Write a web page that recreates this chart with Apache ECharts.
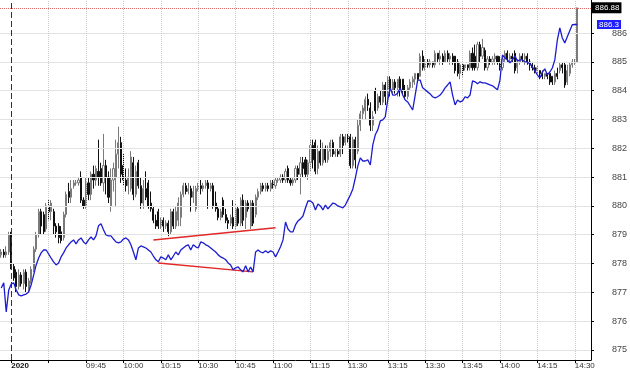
<!DOCTYPE html>
<html>
<head>
<meta charset="utf-8">
<script src="https://cdn.jsdelivr.net/npm/echarts@6/dist/echarts.min.js"></script>
<style>html,body{margin:0;padding:0;background:#fff}#c{width:630px;height:370px}</style>
</head>
<body>
<div id="c"></div>
<script>
// ---- categories (1-minute bars) ----
const prevDayTimes = ['14:56','14:57','14:58','14:59'];
const sessions = [['09:15','11:30'], ['13:00','14:36']];
const dayStart = '09:15';
const yearLabel = '2020';
const tickTimes = ['09:30','09:45','10:00','10:15','10:30','10:45','11:00','11:15','11:30','13:15','13:30','13:45','14:00','14:15','14:30'];
const labelTimes = ['09:45','10:00','10:15','10:30','10:45','11:00','11:15','11:30','13:15','13:30','13:45','14:00','14:15','14:30'];
const yTicks = [875,876,877,878,879,880,881,882,883,884,885,886];
const yMin = 874.65, yMax = 887.15;

// ---- candles: [open, close, low, high] ----
const ohlc = [
[878.3,878.4,878.2,878.5],[878.4,878.3,878.2,878.5],[878.3,878.4,878.2,878.6],[878.4,879.0,878.3,879.1],
[879.0,877.9,877.8,879.1],[877.9,877.5,877.4,878.0],[877.7,877.2,877.0,877.8],[877.2,877.6,877.1,877.8],
[877.6,877.3,877.2,877.7],[877.3,877.7,877.1,877.8],[877.7,877.2,877.0,877.8],[877.1,877.4,877.0,877.5],
[877.4,877.8,877.3,877.9],[877.8,878.5,877.7,878.6],[878.5,879.0,878.4,879.1],[879.0,879.8,878.9,879.9],
[879.8,879.3,879.0,879.9],[879.7,879.1,879.0,879.8],[879.2,880.0,879.1,880.1],[880.0,879.8,879.5,880.2],
[879.8,880.1,879.5,880.2],[879.8,879.3,879.0,879.9],[879.3,879.1,878.9,879.4],[879.3,878.9,878.7,879.4],
[879.1,878.8,878.7,879.3],[878.9,879.7,878.8,879.8],[879.7,880.4,879.6,880.5],[880.5,880.3,880.1,880.8],
[880.3,880.6,880.1,880.9],[880.7,880.8,880.6,880.9],[880.8,880.8,880.7,880.9],[880.8,880.9,880.7,881.0],
[881.0,880.2,880.1,881.2],[880.2,880.0,879.9,880.3],[880.0,880.8,879.9,881.0],[880.8,880.4,880.2,881.0],
[880.4,881.1,880.2,881.2],[881.1,880.9,880.6,881.4],[880.9,881.3,880.7,881.4],[881.2,881.0,880.7,882.3],
[881.3,880.8,880.7,881.5],[880.8,881.4,880.5,882.5],[881.4,881.0,880.4,881.6],[881.0,880.3,880.1,881.2],
[880.0,880.9,879.8,881.3],[880.9,881.3,880.5,881.5],[881.0,881.8,880.0,882.3],[881.8,882.2,881.3,882.75],
[882.2,881.1,880.8,882.4],[881.4,880.9,880.7,881.8],[880.9,880.7,880.5,881.3],[880.7,881.0,880.4,881.3],
[880.6,881.7,880.5,881.9],[881.5,880.4,880.2,881.7],[880.4,881.2,880.3,881.4],[881.5,880.7,880.6,881.6],
[880.7,880.1,879.9,881.0],[880.1,880.6,879.9,880.9],[880.6,880.3,880.2,881.2],[880.8,880.0,879.9,880.9],
[880.1,879.9,879.8,880.5],[879.9,879.5,879.4,880.0],[879.5,879.3,879.2,879.7],[879.8,879.3,879.2,879.9],
[879.3,879.5,879.2,879.6],[879.5,879.3,879.1,879.6],[879.3,879.4,879.2,879.5],[879.4,879.1,878.95,879.5],
[879.1,879.8,879.0,879.9],[879.8,879.3,879.2,879.9],[879.3,879.8,879.2,880.0],[879.5,880.1,879.3,880.3],
[879.6,880.4,879.3,880.5],[880.4,880.7,880.3,880.8],[880.7,880.5,880.4,880.8],[880.5,880.6,880.4,880.8],
[880.6,880.3,879.8,880.7],[880.3,880.5,880.1,880.7],[879.9,880.6,879.8,880.7],[880.6,880.7,880.5,880.8],
[880.7,880.6,880.4,880.9],[880.6,880.7,880.5,880.8],[880.7,880.8,880.6,880.9],[880.8,880.6,879.9,880.9],
[880.6,880.7,880.5,880.8],[880.7,880.0,879.9,880.8],[880.1,879.9,879.8,880.5],[879.9,879.6,879.5,880.0],
[879.6,879.8,879.5,879.9],[880.2,879.7,879.6,880.3],[879.7,879.5,879.4,879.9],[879.5,879.4,879.2,879.6],
[879.4,879.6,879.3,879.7],[879.6,879.3,879.2,880.2],[879.3,879.9,879.2,880.1],[879.9,879.4,879.3,880.0],
[879.4,880.2,879.3,880.3],[880.2,879.5,879.3,880.4],[879.6,880.1,879.2,880.2],[880.1,879.9,879.8,880.2],
[879.3,880.1,879.2,880.2],[880.1,879.4,879.3,880.2],[879.7,880.3,879.6,880.4],[880.3,880.5,880.2,880.6],
[880.5,880.7,880.4,880.8],[880.7,880.6,880.5,880.8],[880.6,880.7,880.5,880.8],[880.7,880.6,880.5,880.8],
[880.6,880.8,880.5,880.9],[880.8,880.7,880.6,880.9],[880.7,880.9,880.6,881.0],[880.9,880.9,880.8,881.0],
[880.9,881.0,880.8,881.1],[881.0,880.9,880.8,881.1],[880.9,881.2,880.8,881.3],[881.3,880.9,880.8,881.4],
[880.9,880.8,880.7,881.0],[880.8,880.9,880.7,881.0],[880.9,881.3,880.8,881.4],[881.3,881.1,880.9,881.4],
[881.1,881.5,880.4,881.7],[881.5,881.3,881.0,881.7],[881.6,881.1,881.0,881.7],[881.1,881.5,880.9,881.6],
[881.5,882.1,881.2,882.3],[882.1,881.6,881.3,882.3],[882.2,881.2,881.1,882.3],[881.3,881.9,881.1,882.1],
[881.9,881.5,881.4,882.3],[881.5,882.0,881.4,882.2],[882.0,881.6,881.5,882.1],[881.6,881.9,881.5,882.1],
[881.9,882.2,881.7,882.3],[882.2,881.8,881.7,882.3],[881.8,881.9,881.7,882.0],[881.9,881.8,881.7,882.0],
[881.8,882.4,881.7,882.5],[882.4,882.1,881.8,882.5],[882.2,882.4,882.1,882.5],[882.4,882.3,882.2,882.5],
[882.4,881.4,881.3,882.5],[881.4,882.3,881.3,882.4],[882.3,881.6,881.3,882.4],[881.9,882.8,881.8,883.0],
[882.8,883.2,882.6,883.3],[883.2,883.4,883.0,883.5],[883.3,883.7,883.0,883.8],[883.7,883.5,883.3,883.9],
[883.4,882.8,882.6,883.6],[882.8,883.1,882.6,883.3],[884.0,883.3,883.2,884.1],[883.4,883.8,883.3,883.9],
[883.8,883.6,883.5,884.0],[883.6,884.2,883.5,884.3],[884.2,883.8,883.5,884.3],[883.8,884.4,883.7,884.5],
[884.4,884.0,883.8,884.5],[884.0,884.3,883.9,884.4],[884.3,884.1,883.9,884.4],[884.1,884.4,883.8,884.4],
[884.4,884.0,883.8,884.5],[884.4,884.0,883.9,884.4],[884.0,883.8,883.7,884.2],[883.8,884.1,883.7,884.2],
[884.1,884.3,884.0,884.4],[884.3,884.4,884.1,884.5],[884.4,884.6,884.2,884.6],[884.6,884.4,884.3,884.6],
[884.5,885.2,884.5,885.3],[885.2,884.8,884.7,885.4],[884.8,885.0,884.7,885.1],[885.0,884.9,884.8,885.1],
[884.9,885.0,884.8,885.1],[885.0,884.9,884.8,885.0],[884.9,885.3,884.8,885.4],[885.3,885.1,885.0,885.3],
[885.1,885.2,884.9,885.4],[885.2,885.0,884.9,885.3],[885.0,885.3,885.0,885.4],[885.3,885.1,885.0,885.4],
[885.1,885.2,884.9,885.3],[885.2,885.0,884.9,885.3],[885.2,884.7,884.6,885.2],[885.0,884.6,884.5,885.1],
[884.6,884.9,884.4,885.0],[884.9,884.7,884.5,885.0],[884.8,884.9,884.7,884.9],[884.9,884.8,884.7,884.9],
[884.8,885.3,884.7,885.4],[885.3,884.8,884.7,885.5],[885.2,884.8,884.7,885.6],[884.8,885.6,884.7,885.7],
[885.6,885.2,885.0,885.7],[885.2,885.5,885.1,885.8],[885.4,884.8,884.7,885.5],[884.8,885.1,884.7,885.2],
[885.1,885.0,884.9,885.2],[885.0,885.1,884.9,885.2],[885.1,885.2,884.9,885.3],[885.2,885.0,884.9,885.2],
[885.0,884.8,884.7,885.2],[884.8,885.1,884.7,885.2],[885.1,885.3,885.0,885.4],[885.3,885.1,885.0,885.4],
[885.1,885.2,885.0,885.3],[885.2,885.1,885.0,885.3],[885.3,884.7,884.6,885.4],[884.8,885.0,884.6,885.1],
[885.0,885.2,884.9,885.3],[885.2,885.1,885.0,885.3],[885.1,885.2,884.9,885.3],[885.2,885.0,884.9,885.3],
[885.0,884.9,884.7,885.1],[884.9,884.8,884.7,885.0],[884.8,884.7,884.6,884.9],[884.7,884.8,884.6,884.9],
[884.7,884.6,884.4,884.7],[884.6,884.5,884.4,884.7],[884.5,884.6,884.4,884.6],[884.6,884.5,884.4,884.6],
[884.6,884.3,884.2,884.6],[884.5,884.3,884.2,884.5],[884.3,884.6,884.2,884.7],[884.6,884.5,884.4,884.8],
[884.7,884.9,884.6,885.0],[884.9,884.8,884.6,885.0],[884.9,884.2,884.1,885.0],[884.3,884.7,884.2,884.9],
[884.6,884.9,884.5,885.0],[884.9,885.0,884.8,885.1],[885.0,885.0,884.9,885.1],[885.0,886.88,885.0,886.88]
];

// ---- blue comparison line ----
const blue = [
877.15,877.33,876.32,877.08,877.29,877.33,877.08,876.91,876.88,876.91,876.94,877.01,877.26,877.60,877.95,878.19,
878.37,878.47,878.47,878.33,878.19,878.06,877.95,878.02,878.23,878.37,878.54,878.65,878.75,878.82,878.68,878.82,
878.89,878.75,878.68,878.82,878.92,878.82,878.96,879.31,879.38,879.17,878.99,878.96,878.96,878.85,878.75,878.72,
878.75,878.85,878.89,878.82,878.65,878.40,878.13,878.54,878.61,878.58,878.54,878.47,878.40,878.26,878.13,878.06,
878.23,878.19,878.13,878.30,878.13,878.26,878.40,878.30,878.47,878.54,878.61,878.65,878.47,878.65,878.58,878.54,
878.75,878.72,878.65,878.61,878.54,878.47,878.40,878.30,878.23,878.19,878.13,878.02,877.95,877.78,877.85,877.88,
877.78,877.71,877.92,877.71,877.88,877.71,878.40,878.47,878.40,878.37,878.44,878.37,878.44,878.40,878.23,878.40,
878.58,878.82,879.44,879.20,879.10,879.10,879.34,879.48,879.55,879.65,879.93,880.17,880.17,880.10,879.86,880.07,
880.00,879.86,880.03,879.90,880.00,880.10,880.07,880.00,879.97,879.93,880.03,880.21,880.38,880.59,880.97,881.39,
881.67,881.56,881.56,881.60,881.42,882.12,882.47,882.64,882.95,882.99,883.09,883.68,884.10,883.85,883.85,883.92,
884.10,883.85,883.68,883.61,883.47,883.33,883.85,884.37,884.37,884.10,884.03,883.96,883.89,883.79,883.75,883.79,
883.85,883.96,884.10,884.20,884.31,883.85,883.51,883.68,883.61,883.65,883.79,883.75,883.85,884.34,884.31,884.24,
884.31,884.27,884.27,884.24,884.20,884.17,884.10,884.03,884.37,885.24,885.14,885.07,884.97,885.07,885.21,885.03,
885.07,885.07,885.00,885.00,884.93,884.83,884.69,884.55,884.44,884.65,884.76,884.55,884.65,884.79,885.07,885.76,
886.18,885.83,885.66,885.87,886.08,886.29,886.30,886.30
];

const lastPrice = 886.88;
const lastBlue = 886.3;
// trend lines: [[startIndex, price], [endIndex, price]]
const trendUpper = [[61, 878.82], [110, 879.24]];
const trendLower = [[63, 878.02], [101, 877.71]];

// ---- build category times ----
function toMin(s){const p=s.split(':');return (+p[0])*60+(+p[1]);}
function fmt(m){const h=Math.floor(m/60),mm=m%60;return (h<10?'0':'')+h+':'+(mm<10?'0':'')+mm;}
const categories = prevDayTimes.slice();
sessions.forEach(([a,b])=>{for(let m=toMin(a);m<=toMin(b);m++)categories.push(fmt(m));});

const FONT = 'Liberation Sans, Arial, sans-serif';
const chart = echarts.init(document.getElementById('c'), null, {renderer:'canvas'});
chart.setOption({
  animation:false,
  backgroundColor:'#ffffff',
  grid:{left:0, right:39, top:0, bottom:10},
  xAxis:{
    type:'category', data:categories, boundaryGap:true,
    axisLine:{show:true, lineStyle:{color:'#000', width:1}},
    axisTick:{show:true, alignWithLabel:true, length:3,
      interval:(i,v)=> v===dayStart || tickTimes.indexOf(v)>=0,
      lineStyle:{color:'#000'}},
    axisLabel:{
      interval:(i,v)=> v===dayStart || labelTimes.indexOf(v)>=0,
      formatter:(v)=> v===dayStart ? '{b|'+yearLabel+'}' : v,
      fontSize:8, color:'#333', fontFamily:FONT, align:'left', margin:2,
      rich:{b:{fontWeight:'bold', fontSize:8, color:'#111', fontFamily:FONT}}
    },
    splitLine:{show:false}
  },
  yAxis:{
    type:'value', position:'right', min:yMin, max:yMax,
    axisLine:{show:true, lineStyle:{color:'#000', width:1}},
    axisTick:{show:true, length:3, customValues:yTicks, lineStyle:{color:'#000'}},
    axisLabel:{customValues:yTicks, fontSize:9, color:'#444', fontFamily:FONT, margin:21},
    splitLine:{show:false}
  },
  series:[
    {
      name:'hgrid', type:'line', data:[], z:1, silent:true,
      markLine:{silent:true, symbol:['none','none'], label:{show:false},
        lineStyle:{color:'#e3e3e3', type:'solid', width:1},
        data:yTicks.map(v=>({yAxis:v}))}
    },
    {
      name:'vgrid', type:'line', data:[], z:1, silent:true,
      markLine:{silent:true, symbol:['none','none'], label:{show:false},
        lineStyle:{color:'#cccccc', type:'dotted', width:1},
        data:tickTimes.map(t=>({xAxis:t}))}
    },
    {
      name:'daysep', type:'line', data:[], z:2, silent:true,
      markLine:{silent:true, symbol:['none','none'], label:{show:false},
        lineStyle:{color:'#333', type:[6,3], width:1},
        data:[{xAxis:dayStart}]}
    },
    {
      name:'price', type:'candlestick', data:ohlc, z:3, barWidth:1.6,
      itemStyle:{color:'#ffffff', color0:'#111111', borderColor:'#7a7a7a', borderColor0:'#111111', borderWidth:1},
      markLine:{silent:true, symbol:['none','none'], z:6,
        lineStyle:{color:'#d86a6a', type:'dotted', width:1},
        label:{show:true, position:'end', formatter:String(lastPrice), backgroundColor:'#000', color:'#fff',
          fontSize:8, fontFamily:FONT, padding:[2,2,1,3], distance:1},
        data:[{yAxis:lastPrice}]}
    },
    {
      name:'compare', type:'line', data:blue, z:5, symbol:'none', showSymbol:false,
      lineStyle:{color:'#1c1cd0', width:1.3}
    },
    {
      name:'blueTag', type:'line', data:[], z:7, silent:true,
      markLine:{silent:true, symbol:['none','none'],
        lineStyle:{color:'rgba(0,0,0,0)', width:0},
        label:{show:true, position:'end', formatter:String(lastBlue), backgroundColor:'#1f1fff', color:'#fff',
          fontSize:8, fontFamily:FONT, padding:[1,2,0,2], distance:6},
        data:[{yAxis:lastBlue}]}
    },
    {
      name:'trend', type:'line', data:[], z:6, silent:true,
      markLine:{silent:true, symbol:['none','none'], label:{show:false},
        lineStyle:{color:'#e02828', type:'solid', width:1.5},
        data:[
          [{coord:trendUpper[0]},{coord:trendUpper[1]}],
          [{coord:trendLower[0]},{coord:trendLower[1]}]
        ]}
    }
  ]
});
</script>
</body>
</html>
